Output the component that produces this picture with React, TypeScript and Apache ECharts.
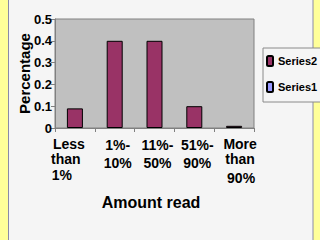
import React, { useEffect, useRef } from "react";
import * as echarts from "echarts";

const categories = ["Less than 1%", "1%-10%", "11%-50%", "51%-90%", "More than 90%"];
const series2Values = [0.09, 0.4, 0.4, 0.1, 0.01];
const series1Values: number[] = [];
const yTicks = [0, 0.1, 0.2, 0.3, 0.4, 0.5];

const FONT = "Liberation Sans, Arial, sans-serif";

// Category labels broken over several lines with uneven spacing
const labelLines: Record<number, string> = {
  0: "{l0a|Less}\n{l0b|than}\n{l0c|1%}",
  1: "{m|1%-}\n{m|10%}",
  2: "{m|11%-}\n{m|50%}",
  3: "{m|51%-}\n{m|90%}",
  4: "{l4a|More}\n{l4a|than}\n{l4c|90%}",
};

const base = { fontSize: 14, fontWeight: "bold" as const, fontFamily: FONT, color: "#000" };

export default function App() {
  const ref = useRef<HTMLDivElement>(null);
  useEffect(() => {
    if (!ref.current) return;
    const chart = echarts.init(ref.current, null, { renderer: "svg" });
    chart.setOption({
      animation: false,
      backgroundColor: "#FFFF99",
      graphic: [
        {
          type: "rect",
          z: -10,
          shape: { x: 8.5, y: -2, width: 304.5, height: 244 },
          style: { fill: "#F5F5F5", stroke: "#8A8AA8", lineWidth: 1 },
          silent: true,
        },
        {
          type: "text",
          x: 24,
          y: 73.5,
          rotation: Math.PI / 2,
          style: {
            text: "Percentage",
            font: `bold 15px ${FONT}`,
            fill: "#000",
            align: "center",
            verticalAlign: "middle",
          },
        },
        {
          type: "text",
          x: 151,
          y: 202,
          style: {
            text: "Amount read",
            font: `bold 16px ${FONT}`,
            fill: "#000",
            align: "center",
            verticalAlign: "middle",
          },
        },
      ],
      grid: {
        left: 55,
        right: 66,
        top: 19,
        bottom: 112,
        show: true,
        backgroundColor: "#C0C0C0",
        borderColor: "#808080",
        borderWidth: 1,
      },
      legend: {
        orient: "vertical",
        left: 263,
        top: 48,
        width: 50,
        padding: [7, 8, 9, 3],
        itemWidth: 6,
        itemHeight: 10,
        itemGap: 14,
        backgroundColor: "#F5F5F5",
        borderColor: "#8A8A8A",
        borderWidth: 1,
        data: ["Series2", "Series1"],
        textStyle: { fontSize: 11, fontWeight: "bold", fontFamily: FONT, color: "#000" },
      },
      xAxis: {
        type: "category",
        data: categories,
        axisLine: { show: true, lineStyle: { color: "#808080", width: 1 } },
        axisTick: { show: true, length: 4, alignWithLabel: false, lineStyle: { color: "#808080" } },
        splitLine: { show: false },
        axisLabel: {
          interval: 0,
          margin: 8,
          formatter: (_v: string, i: number) => labelLines[i],
          rich: {
            l0a: { ...base, lineHeight: 15, padding: [0, 12, 0, 0] },
            l0b: { ...base, lineHeight: 15, padding: [0, 18, 0, 0] },
            l0c: { ...base, lineHeight: 17, padding: [0, 26, 0, 0] },
            m: { ...base, lineHeight: 18, padding: [0, 0, 0, 6] },
            l4a: { ...base, lineHeight: 15, padding: [0, 0, 0, 12] },
            l4c: { ...base, lineHeight: 23, padding: [0, 0, 0, 14] },
          },
        },
      },
      yAxis: {
        type: "value",
        min: yTicks[0],
        max: yTicks[yTicks.length - 1],
        interval: 0.1,
        axisLine: { show: true, lineStyle: { color: "#808080", width: 1 } },
        axisTick: { show: true, length: 4, lineStyle: { color: "#808080" } },
        splitLine: { show: false },
        axisLabel: {
          margin: 3,
          fontSize: 13,
          fontWeight: "bold",
          fontFamily: FONT,
          color: "#000",
          formatter: (v: number) => (v === 0 ? "0" : v.toFixed(1)),
        },
      },
      series: [
        {
          name: "Series2",
          type: "bar",
          data: series2Values,
          barWidth: 16,
          barGap: "-100%",
          itemStyle: { color: "#993366", borderColor: "#000", borderWidth: 1 },
        },
        {
          name: "Series1",
          type: "bar",
          data: series1Values,
          barWidth: 16,
          barGap: "-100%",
          itemStyle: { color: "#9999FF", borderColor: "#000", borderWidth: 1 },
        },
      ],
    });
    return () => chart.dispose();
  }, []);
  return (
    <div
      ref={ref}
      style={{ position: "fixed", left: 0, top: 0, width: 320, height: 240 }}
    />
  );
}
